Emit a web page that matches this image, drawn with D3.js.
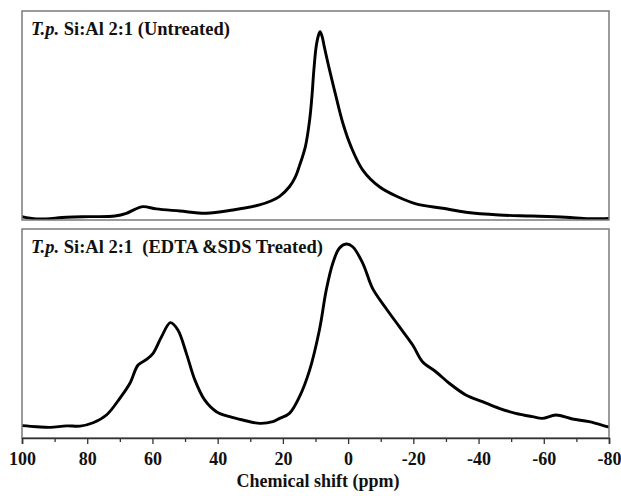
<!DOCTYPE html>
<html>
<head>
<meta charset="utf-8">
<script src="https://cdn.jsdelivr.net/npm/d3@7"></script>
<style>
  html, body { margin: 0; padding: 0; background: #fff; }
  svg { display: block; }
  text { font-family: "Liberation Serif", "Times New Roman", serif; font-weight: bold; fill: #111; }
</style>
</head>
<body>
<svg id="chart" width="621" height="496"></svg>
<script>
// 27Al NMR spectra, chemical shift in ppm and relative intensity (0-100)
const untreatedShift = [100, 95.5, 86.3, 79.2, 71.5, 68, 65.4, 62.9, 58.8, 51.6, 43.5, 35.3, 27.2, 23.5, 21.0, 18.0, 16.2, 14.9, 13.1, 11.8, 11.1, 10.5, 9.8, 9.1, 8.6, 8.0, 7.3, 5.7, 3.7, 1.6, -0.9, -4.5, -9.6, -15.2, -20.8, -29, -36.1, -46.3, -56.5, -66.7, -73.9, -80];
const untreatedIntensity = [1.6, 0.5, 1.3, 1.6, 1.9, 3.2, 5.1, 6.4, 5.3, 4.3, 3.2, 4.8, 7.2, 9.2, 11.3, 15.9, 20.5, 26.0, 35.1, 47.8, 59.0, 71.8, 82.9, 88.3, 90.1, 88.0, 82.9, 71.8, 59.0, 46.3, 35.1, 23.9, 15.9, 11.1, 7.7, 5.6, 3.7, 2.4, 1.9, 1.3, 0.6, 0.8];

const treatedShift = [100, 95.5, 91.4, 86.3, 82.2, 78.2, 74.1, 70.0, 66.9, 64.4, 61.8, 59.8, 57.2, 54.5, 52.2, 49.6, 47.0, 44.0, 40.4, 36.3, 32.3, 27.1, 23.1, 21.0, 18.0, 14.9, 11.8, 8.8, 6.7, 4.7, 2.7, 0.6, -1.4, -4.5, -7.5, -11.6, -15.7, -19.8, -22.8, -26.9, -31, -36.1, -41.2, -46.3, -51.4, -56.5, -59.6, -63.7, -68.8, -73.9, -79.5, -80];
const treatedIntensity = [5.9, 5.4, 5.1, 5.8, 5.7, 7.3, 11.0, 19.0, 26.2, 34.9, 37.6, 40.5, 48.5, 55.2, 51.7, 40.5, 27.8, 18.2, 12.6, 10.2, 8.6, 7.0, 7.8, 9.4, 11.8, 19.8, 32.5, 51.7, 70.8, 83.6, 90.8, 92.8, 91.5, 83.6, 71.6, 62.1, 53.3, 44.5, 36.5, 31.7, 26.2, 20.6, 17.4, 14.2, 11.8, 10.2, 9.4, 11.0, 9.1, 7.8, 5.4, 5.2];

const majorTicks = [100, 80, 60, 40, 20, 0, -20, -40, -60, -80];
const minorTicks = [90, 70, 50, 30, 10, -10, -30, -50, -70];
const tickLabels = ["100", "80", "60", "40", "20", "0", "-20", "-40", "-60", "-80"];

const panelLabels = [
  { italic: "T.p.", rest: " Si:Al 2:1 (Untreated)" },
  { italic: "T.p.", rest: " Si:Al 2:1\u00a0 (EDTA &SDS Treated)" }
];
const axisTitle = "Chemical shift (ppm)";

const svg = d3.select("#chart");
const left = 22, right = 609;
const panels = [
  { top: 11, bottom: 220, shift: untreatedShift, inten: untreatedIntensity },
  { top: 229, bottom: 438, shift: treatedShift, inten: treatedIntensity }
];

const x = d3.scaleLinear().domain([100, -80]).range([left, right]);

panels.forEach((p, i) => {
  const y = d3.scaleLinear().domain([0, 100]).range([p.bottom, p.top]);
  const clipId = "clip" + i;
  svg.append("clipPath").attr("id", clipId)
    .append("rect").attr("x", left).attr("y", p.top)
    .attr("width", right - left).attr("height", p.bottom - p.top);

  const pts = p.shift.map((s, k) => [s, p.inten[k]]);
  const line = d3.line()
    .x(d => x(d[0])).y(d => y(d[1]))
    .curve(d3.curveCatmullRom.alpha(0.5));

  svg.append("path")
    .attr("clip-path", `url(#${clipId})`)
    .attr("d", line(pts))
    .attr("fill", "none")
    .attr("stroke", "#000")
    .attr("stroke-width", 2.9)
    .attr("stroke-linejoin", "round");

  // panel frame
  svg.append("rect")
    .attr("x", left).attr("y", p.top)
    .attr("width", right - left).attr("height", p.bottom - p.top)
    .attr("fill", "none").attr("stroke", "#7a7a7a").attr("stroke-width", 1.5);

  const lbl = svg.append("text")
    .attr("x", left + 9).attr("y", p.top + 24)
    .style("font-size", "18.5px");
  lbl.append("tspan").style("font-style", "italic").text(panelLabels[i].italic);
  lbl.append("tspan").text(panelLabels[i].rest);
});

// bottom axis
const axisY = panels[1].bottom;
const gx = svg.append("g").attr("transform", `translate(0,${axisY})`);
gx.call(d3.axisBottom(x).tickValues(majorTicks).tickSize(6).tickFormat((d, k) => tickLabels[k]).tickPadding(8));
gx.select(".domain").attr("stroke", "#333").attr("stroke-width", 1.6);
gx.selectAll(".tick line").attr("stroke", "#333").attr("stroke-width", 1.3);
gx.selectAll(".tick text")
  .style("font-family", '"Liberation Serif", "Times New Roman", serif')
  .style("font-weight", "bold").style("font-size", "18px").attr("fill", "#111");

const gm = svg.append("g").attr("transform", `translate(0,${axisY})`);
gm.call(d3.axisBottom(x).tickValues(minorTicks).tickSize(4).tickFormat(""));
gm.select(".domain").remove();
gm.selectAll(".tick line").attr("stroke", "#333").attr("stroke-width", 1.3);

svg.append("text")
  .attr("x", 318).attr("y", 487)
  .attr("text-anchor", "middle")
  .style("font-size", "18px")
  .text(axisTitle);
</script>
</body>
</html>
